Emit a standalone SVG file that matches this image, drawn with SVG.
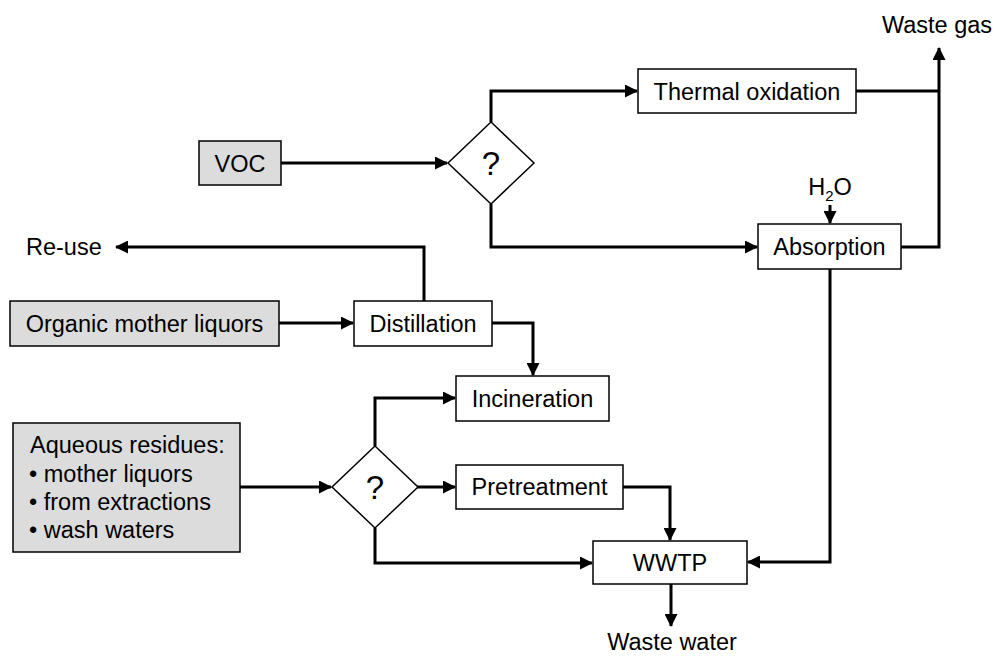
<svg xmlns="http://www.w3.org/2000/svg" width="995" height="659" viewBox="0 0 995 659">
<defs>
<marker id="arr" viewBox="0 0 13 13" refX="12" refY="6.5" markerWidth="13" markerHeight="13" markerUnits="userSpaceOnUse" orient="auto">
<path d="M0,0 L13,6.5 L0,13 Z" fill="#000"/>
</marker>
<style>
.box{fill:#fff;stroke:#000;stroke-width:1.5}
.src{fill:#dcdcdc;stroke:#000;stroke-width:1.5}
.t{font-family:"Liberation Sans",Arial,sans-serif;font-size:23.5px;fill:#000}
.c{text-anchor:middle}
.q{font-family:"Liberation Sans",Arial,sans-serif;font-size:33px;fill:#000;text-anchor:middle}
.ln{fill:none;stroke:#000;stroke-width:3;marker-end:url(#arr)}
.pl{fill:none;stroke:#000;stroke-width:3}
</style>
</defs>
<rect width="995" height="659" fill="#fff"/>
<g id="connectors">
<path class="ln" d="M281,163 H447"/>
<path class="ln" d="M491,122 V91 H637"/>
<path class="ln" d="M491,204 V247 H757"/>
<path class="ln" d="M830,205 V223"/>
<path class="pl" d="M856,91 H939"/>
<path class="ln" d="M901,247 H939 V48"/>
<path class="ln" d="M830,269 V562 H748"/>
<path class="ln" d="M279,323 H353"/>
<path class="ln" d="M424,301 V247 H116"/>
<path class="ln" d="M492,323 H533 V375"/>
<path class="ln" d="M240,487 H331"/>
<path class="ln" d="M375,446 V398 H455"/>
<path class="ln" d="M417,487 H455"/>
<path class="ln" d="M375,528 V563 H592"/>
<path class="ln" d="M623,487 H670 V540"/>
<path class="ln" d="M671,584 V626"/>
</g>
<g id="voc">
<rect class="src" x="199" y="141" width="82" height="44"/>
<text class="t c" x="240" y="172">VOC</text>
</g>
<g id="decision1">
<path class="box" d="M491,122 L534,163 L491,204 L448,163 Z"/>
<text class="q" x="491" y="175">?</text>
</g>
<g id="thermal">
<rect class="box" x="638" y="69" width="218" height="44"/>
<text class="t c" x="747" y="100">Thermal oxidation</text>
</g>
<g id="wastegas">
<text class="t c" x="937" y="33">Waste gas</text>
</g>
<g id="h2o">
<text class="t c" x="830" y="195">H<tspan font-size="15" dy="6">2</tspan><tspan dy="-6">O</tspan></text>
</g>
<g id="absorption">
<rect class="box" x="758" y="224" width="143" height="45"/>
<text class="t c" x="829.5" y="255">Absorption</text>
</g>
<g id="reuse">
<text class="t" x="26" y="255">Re-use</text>
</g>
<g id="organic">
<rect class="src" x="10" y="301" width="269" height="45"/>
<text class="t c" x="144.5" y="332">Organic mother liquors</text>
</g>
<g id="distillation">
<rect class="box" x="354" y="301" width="138" height="45"/>
<text class="t c" x="423" y="332">Distillation</text>
</g>
<g id="incineration">
<rect class="box" x="456" y="376" width="153" height="45"/>
<text class="t c" x="532.5" y="407">Incineration</text>
</g>
<g id="aqueous">
<rect class="src" x="13" y="423" width="227" height="129"/>
<text class="t" x="30" y="453">Aqueous residues:</text>
<text class="t" x="29" y="481.5">• mother liquors</text>
<text class="t" x="29" y="510">• from extractions</text>
<text class="t" x="29" y="538">• wash waters</text>
</g>
<g id="decision2">
<path class="box" d="M375,446 L418,487 L375,528 L332,487 Z"/>
<text class="q" x="375" y="499">?</text>
</g>
<g id="pretreatment">
<rect class="box" x="456" y="465" width="167" height="44"/>
<text class="t c" x="539.5" y="495">Pretreatment</text>
</g>
<g id="wwtp">
<rect class="box" x="593" y="541" width="154" height="43"/>
<text class="t c" x="670" y="571">WWTP</text>
</g>
<g id="wastewater">
<text class="t c" x="672" y="650">Waste water</text>
</g>
</svg>
